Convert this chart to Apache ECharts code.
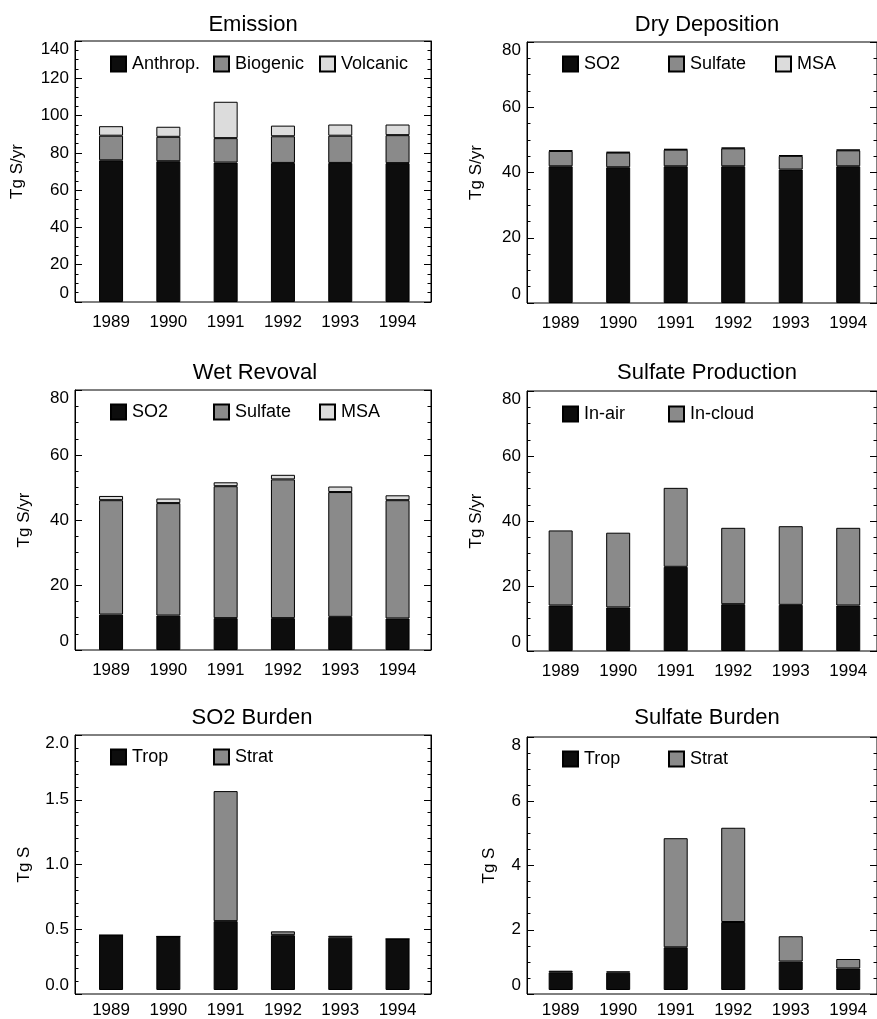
<!DOCTYPE html>
<html>
<head>
<meta charset="utf-8">
<script src="https://cdn.jsdelivr.net/npm/echarts@6/dist/echarts.min.js"></script>
<style>
html,body{margin:0;padding:0;background:#fff;}
#main{width:877px;height:1019px;}
</style>
</head>
<body>
<div id="main"></div>
<script>
// ---------------- data ----------------
const years = ['1989', '1990', '1991', '1992', '1993', '1994'];

// Emission (Tg S/yr)
const emisAnthrop  = [76.0, 75.5, 74.8, 74.6, 74.6, 74.5];
const emisBiogenic = [13.2, 13.1, 13.1, 14.3, 14.6, 15.0];
const emisVolcanic = [5.1, 5.4, 19.5, 5.7, 6.0, 5.7];

// Dry Deposition (Tg S/yr)
const drySO2     = [41.9, 41.6, 41.9, 41.9, 40.9, 41.9];
const drySulfate = [4.7, 4.5, 5.1, 5.5, 4.2, 4.9];
const dryMSA     = [0.2, 0.2, 0.2, 0.2, 0.2, 0.2];

// Wet Removal (Tg S/yr)
const wetSO2     = [10.9, 10.6, 9.8, 9.8, 10.2, 9.7];
const wetSulfate = [35.2, 34.6, 40.6, 42.7, 38.4, 36.4];
const wetMSA     = [1.3, 1.4, 1.2, 1.4, 1.7, 1.5];

// Sulfate Production (Tg S/yr)
const prodInAir   = [14.0, 13.4, 25.9, 14.4, 14.2, 14.0];
const prodInCloud = [23.1, 23.0, 24.3, 23.5, 24.2, 23.9];

// SO2 Burden (Tg S)
const so2Trop  = [0.43, 0.42, 0.54, 0.43, 0.41, 0.40];
const so2Strat = [0.0, 0.0, 1.02, 0.03, 0.015, 0.0];

// Sulfate Burden (Tg S)
const sulTrop  = [0.56, 0.55, 1.35, 2.15, 0.90, 0.68];
const sulStrat = [0.05, 0.04, 3.45, 2.98, 0.80, 0.30];

// ---------------- styling / layout ----------------
const FONT = "'Liberation Sans', Arial, Helvetica, sans-serif";
const C_BLACK = '#0d0d0d', C_MID = '#8a8a8a', C_LIGHT = '#dcdcdc';

// box: plot frame; bars: band area for the year categories
const panels = [
  { title: 'Emission', tx: 253, ty: 25,
    box: {left: 75, top: 41, width: 356, height: 261},
    bars: {left: 82.4, width: 343.8},
    ymax: 140, interval: 20, minor: 4, dec: 0, yname: 'Tg S/yr', nameGap: 49,
    legendY: 55, legendX: [110, 213, 319],
    series: [['Anthrop.', emisAnthrop, C_BLACK], ['Biogenic', emisBiogenic, C_MID], ['Volcanic', emisVolcanic, C_LIGHT]] },
  { title: 'Dry Deposition', tx: 707, ty: 25,
    box: {left: 527, top: 42, width: 352, height: 261},
    bars: {left: 531.9, width: 349.2},
    ymax: 80, interval: 20, minor: 4, dec: 0, yname: 'Tg S/yr', nameGap: 42,
    legendY: 55, legendX: [562, 668, 775],
    series: [['SO2', drySO2, C_BLACK], ['Sulfate', drySulfate, C_MID], ['MSA', dryMSA, C_LIGHT]] },
  { title: 'Wet Revoval', tx: 255, ty: 373,
    box: {left: 75, top: 390, width: 356, height: 260},
    bars: {left: 82.4, width: 343.8},
    ymax: 80, interval: 20, minor: 4, dec: 0, yname: 'Tg S/yr', nameGap: 42,
    legendY: 403, legendX: [110, 213, 319],
    series: [['SO2', wetSO2, C_BLACK], ['Sulfate', wetSulfate, C_MID], ['MSA', wetMSA, C_LIGHT]] },
  { title: 'Sulfate Production', tx: 707, ty: 373,
    box: {left: 527, top: 391, width: 352, height: 260},
    bars: {left: 531.9, width: 349.2},
    ymax: 80, interval: 20, minor: 4, dec: 0, yname: 'Tg S/yr', nameGap: 42,
    legendY: 405, legendX: [562, 668],
    series: [['In-air', prodInAir, C_BLACK], ['In-cloud', prodInCloud, C_MID]] },
  { title: 'SO2 Burden', tx: 252, ty: 718,
    box: {left: 75, top: 735, width: 356, height: 259},
    bars: {left: 82.4, width: 343.8},
    ymax: 2, interval: 0.5, minor: 5, dec: 1, yname: 'Tg S', nameGap: 42,
    legendY: 748, legendX: [110, 213],
    series: [['Trop', so2Trop, C_BLACK], ['Strat', so2Strat, C_MID]] },
  { title: 'Sulfate Burden', tx: 707, ty: 718,
    box: {left: 527, top: 737, width: 352, height: 257},
    bars: {left: 531.9, width: 349.2},
    ymax: 8, interval: 2, minor: 4, dec: 0, yname: 'Tg S', nameGap: 29,
    legendY: 750, legendX: [562, 668],
    series: [['Trop', sulTrop, C_BLACK], ['Strat', sulStrat, C_MID]] }
];

const option = {
  animation: false,
  backgroundColor: '#fff',
  textStyle: {fontFamily: FONT, color: '#000'},
  grid: [], xAxis: [], yAxis: [], series: [], legend: [], graphic: []
};

panels.forEach((p, i) => {
  const gBox = option.grid.length;
  option.grid.push(Object.assign({show: true, borderColor: '#000', borderWidth: 1, containLabel: false}, p.box));
  const gBar = option.grid.length;
  option.grid.push({left: p.bars.left, width: p.bars.width, top: p.box.top, height: p.box.height, containLabel: false});

  // frame grid: hidden x axis, left + right y axes with inward ticks
  option.xAxis.push({type: 'category', gridIndex: gBox, data: years, show: false});
  const yBase = {
    type: 'value', gridIndex: gBox, min: 0, max: p.ymax, interval: p.interval,
    splitLine: {show: false},
    axisLine: {show: true, lineStyle: {color: '#000', width: 1}},
    axisTick: {show: true, inside: true, length: 7, lineStyle: {color: '#000'}},
    minorTick: {show: true, splitNumber: p.minor, length: 3.5, lineStyle: {color: '#000'}}
  };
  option.yAxis.push(Object.assign({}, yBase, {
    position: 'left',
    name: p.yname, nameLocation: 'middle', nameGap: p.nameGap, nameRotate: 90,
    nameTextStyle: {fontSize: 17, color: '#000', fontFamily: FONT},
    axisLabel: {
      margin: 6, fontSize: 17, color: '#000', fontFamily: FONT,
      verticalAlignMinLabel: 'bottom', verticalAlignMaxLabel: 'top',
      formatter: v => v.toFixed(p.dec)
    }
  }));
  option.yAxis.push(Object.assign({}, yBase, {position: 'right', axisLabel: {show: false}}));

  // bar grid: category years, hidden y axis with same scale
  const xBar = option.xAxis.length;
  option.xAxis.push({
    type: 'category', gridIndex: gBar, data: years, boundaryGap: true,
    axisLine: {show: false}, axisTick: {show: false}, splitLine: {show: false},
    axisLabel: {margin: 12, fontSize: 17, color: '#000', fontFamily: FONT, interval: 0}
  });
  const yBar = option.yAxis.length;
  option.yAxis.push({type: 'value', gridIndex: gBar, min: 0, max: p.ymax, interval: p.interval, show: false});

  p.series.forEach((s, k) => {
    option.series.push({
      type: 'bar', name: s[0], xAxisIndex: xBar, yAxisIndex: yBar, stack: 'panel' + i,
      barWidth: 24,
      itemStyle: {color: s[2], borderColor: '#000', borderWidth: 1},
      emphasis: {disabled: true},
      data: s[1]
    });
    option.legend.push({
      data: [s[0]], left: p.legendX[k], top: p.legendY, padding: 0,
      icon: 'rect', itemWidth: 15, itemHeight: 15, itemGap: 0,
      selectedMode: false,
      textStyle: {fontSize: 18, color: '#000', fontFamily: FONT, padding: [0, 0, 0, 1]}
    });
  });
  option.graphic.push({
    type: 'text', x: p.tx, y: p.ty,
    style: {text: p.title, fill: '#000', font: '22px ' + FONT, textAlign: 'center', textVerticalAlign: 'middle'}
  });
});

const chart = echarts.init(document.getElementById('main'), null, {renderer: 'canvas'});
chart.setOption(option);
</script>
</body>
</html>
